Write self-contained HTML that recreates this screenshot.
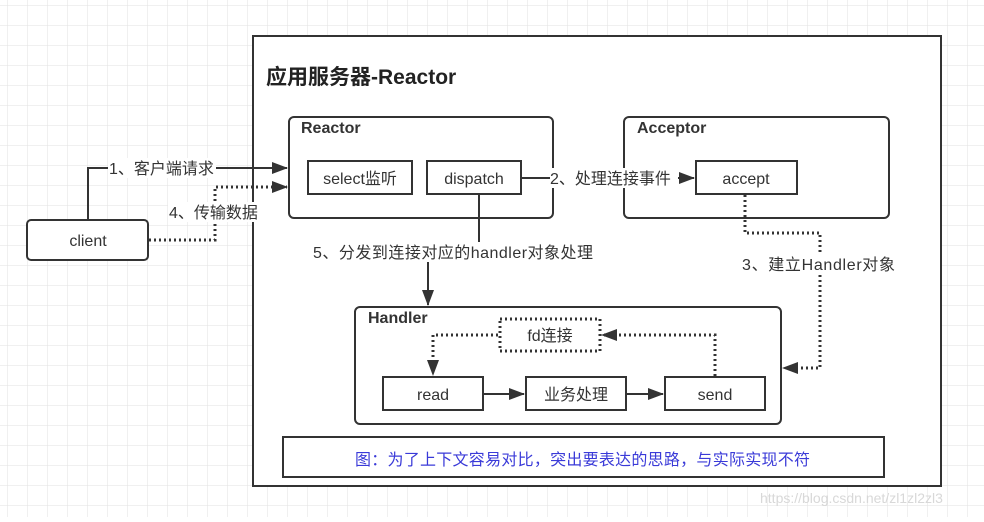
<!DOCTYPE html>
<html><head><meta charset="utf-8"><style>
html,body{margin:0;padding:0;background:#fff}
svg text{font-family:"Liberation Sans","Noto Sans CJK SC",sans-serif;fill:#333}
</style></head><body>
<svg width="984" height="517" viewBox="0 0 984 517" xmlns="http://www.w3.org/2000/svg">
<defs>
<pattern id="g" width="20" height="20" patternUnits="userSpaceOnUse" x="8" y="6">
<path d="M20 0V20H0" fill="none" stroke="#e2e2e2" stroke-width="1"/>
</pattern>
<marker id="b" markerWidth="16" markerHeight="12" refX="15" refY="6" orient="auto" markerUnits="userSpaceOnUse"><path d="M0,0 L16,6 L0,12 Z" fill="#333"/></marker>
</defs>
<rect width="984" height="517" fill="url(#g)"/>
<rect x="253" y="36" width="688" height="450" fill="#fff" stroke="#333" stroke-width="2"/>
<text x="266" y="84" font-size="21" font-weight="bold" style="fill:#222">应用服务器-Reactor</text>

<rect x="289" y="117" width="264" height="101" rx="5" fill="#fff" stroke="#333" stroke-width="2"/>
<text x="301" y="133" font-size="16" font-weight="bold">Reactor</text>
<rect x="308" y="161" width="104" height="33" fill="#fff" stroke="#333" stroke-width="2"/>
<text x="360" y="184" font-size="16" text-anchor="middle">select监听</text>
<rect x="427" y="161" width="94" height="33" fill="#fff" stroke="#333" stroke-width="2"/>
<text x="474" y="184" font-size="16" text-anchor="middle">dispatch</text>

<rect x="624" y="117" width="265" height="101" rx="5" fill="#fff" stroke="#333" stroke-width="2"/>
<text x="637" y="133" font-size="16" font-weight="bold">Acceptor</text>
<rect x="696" y="161" width="101" height="33" fill="#fff" stroke="#333" stroke-width="2"/>
<text x="746" y="184" font-size="16" text-anchor="middle">accept</text>

<rect x="27" y="220" width="121" height="40" rx="4" fill="#fff" stroke="#333" stroke-width="2"/>
<text x="88" y="246" font-size="16" text-anchor="middle">client</text>

<path d="M88 219V168H287" fill="none" stroke="#333" stroke-width="2" marker-end="url(#b)"/>
<rect x="108" y="158" width="108" height="20" fill="#fff"/>
<text x="109" y="174" font-size="16">1、客户端请求</text>
<path d="M149 240H215V187H287" fill="none" stroke="#333" stroke-width="3" stroke-dasharray="2,3" marker-end="url(#b)"/>
<rect x="168" y="202" width="96" height="20" fill="#fff"/>
<text x="169" y="218" font-size="16">4、传输数据</text>
<path d="M522 178H694" fill="none" stroke="#333" stroke-width="2" marker-end="url(#b)"/>
<rect x="550" y="168" width="128" height="20" fill="#fff"/>
<text x="550" y="184" font-size="16">2、处理连接事件</text>
<path d="M479 195V242" fill="none" stroke="#333" stroke-width="2"/>
<path d="M428 262V305" fill="none" stroke="#333" stroke-width="2" marker-end="url(#b)"/>
<text x="313" y="258" font-size="16" textLength="280">5、分发到连接对应的handler对象处理</text>
<path d="M745 195V233H820V368H783" fill="none" stroke="#333" stroke-width="3" stroke-dasharray="2,3" marker-end="url(#b)"/>
<rect x="740" y="253" width="158" height="22" fill="#fff"/>
<text x="742" y="270" font-size="16" textLength="153">3、建立Handler对象</text>

<rect x="355" y="307" width="426" height="117" rx="5" fill="#fff" stroke="#333" stroke-width="2"/>
<text x="368" y="323" font-size="16" font-weight="bold">Handler</text>
<rect x="500" y="319" width="100" height="32" fill="#fff" stroke="#333" stroke-width="3" stroke-dasharray="2,3"/>
<text x="550" y="341" font-size="16" text-anchor="middle">fd连接</text>
<rect x="383" y="377" width="100" height="33" fill="#fff" stroke="#333" stroke-width="2"/>
<text x="433" y="400" font-size="16" text-anchor="middle">read</text>
<rect x="526" y="377" width="100" height="33" fill="#fff" stroke="#333" stroke-width="2"/>
<text x="576" y="400" font-size="16" text-anchor="middle">业务处理</text>
<rect x="665" y="377" width="100" height="33" fill="#fff" stroke="#333" stroke-width="2"/>
<text x="715" y="400" font-size="16" text-anchor="middle">send</text>
<path d="M484 394H524" stroke="#333" stroke-width="2" marker-end="url(#b)"/>
<path d="M627 394H663" stroke="#333" stroke-width="2" marker-end="url(#b)"/>
<path d="M498 335H433V375" fill="none" stroke="#333" stroke-width="3" stroke-dasharray="2,3" marker-end="url(#b)"/>
<path d="M715 376V335H602" fill="none" stroke="#333" stroke-width="3" stroke-dasharray="2,3" marker-end="url(#b)"/>

<rect x="283" y="437" width="601" height="40" fill="#fff" stroke="#333" stroke-width="2"/>
<text x="355" y="465" font-size="16" style="fill:#3a3ad8" textLength="455">图：为了上下文容易对比，突出要表达的思路，与实际实现不符</text>

<text x="760" y="503" font-size="14" style="fill:#d8d8d8">https://blog.csdn.net/zl1zl2zl3</text>
</svg>
</body></html>
